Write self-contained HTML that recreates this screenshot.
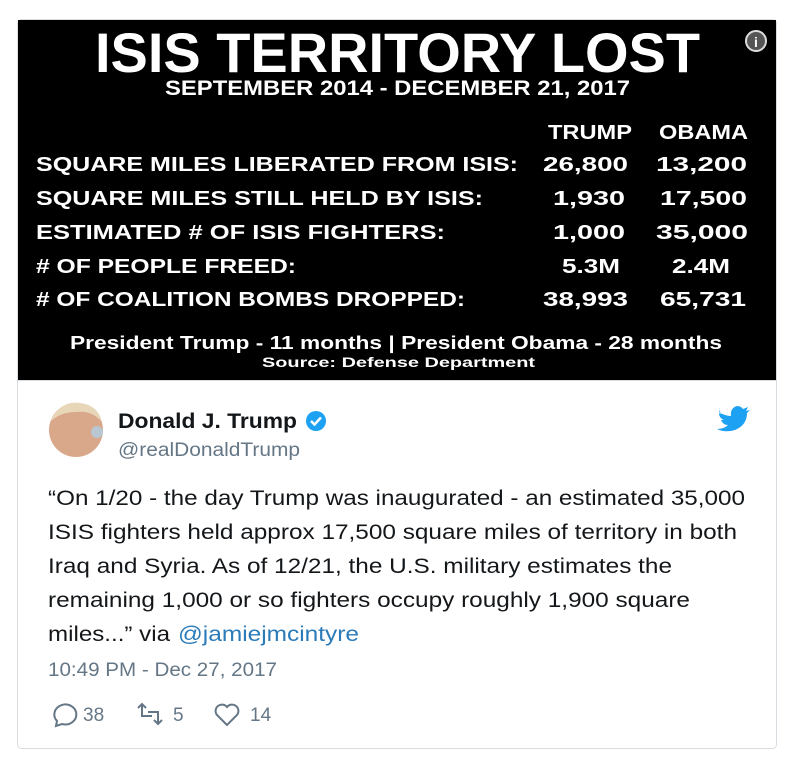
<!DOCTYPE html>
<html><head><meta charset="utf-8"><style>
body{margin:0;background:#fff;width:799px;height:774px;overflow:hidden}
svg{display:block}
</style></head><body>
<svg width="799" height="774" viewBox="0 0 799 774" xmlns="http://www.w3.org/2000/svg" font-family="Liberation Sans, sans-serif">
<rect x="17.5" y="19.5" width="759" height="729" rx="4" fill="#fff" stroke="#d8dde2"/>
<rect x="18" y="20" width="758" height="360" fill="#000"/>
<g fill="#fff" font-weight="bold">
<text x="95" y="72" font-size="56" textLength="605" lengthAdjust="spacingAndGlyphs">ISIS TERRITORY LOST</text>
<text x="165" y="95" font-size="21" textLength="465" lengthAdjust="spacingAndGlyphs">SEPTEMBER 2014 - DECEMBER 21, 2017</text>
<g font-size="20">
<text x="548" y="139" textLength="84" lengthAdjust="spacingAndGlyphs">TRUMP</text>
<text x="659" y="139" textLength="89" lengthAdjust="spacingAndGlyphs">OBAMA</text>
<text x="36" y="171" textLength="482" lengthAdjust="spacingAndGlyphs">SQUARE MILES LIBERATED FROM ISIS:</text>
<text x="543" y="171" textLength="85" lengthAdjust="spacingAndGlyphs">26,800</text>
<text x="656" y="171" textLength="91" lengthAdjust="spacingAndGlyphs">13,200</text>
<text x="36" y="205" textLength="447" lengthAdjust="spacingAndGlyphs">SQUARE MILES STILL HELD BY ISIS:</text>
<text x="553" y="205" textLength="72" lengthAdjust="spacingAndGlyphs">1,930</text>
<text x="660" y="205" textLength="87" lengthAdjust="spacingAndGlyphs">17,500</text>
<text x="36" y="239" textLength="409" lengthAdjust="spacingAndGlyphs">ESTIMATED # OF ISIS FIGHTERS:</text>
<text x="553" y="239" textLength="72" lengthAdjust="spacingAndGlyphs">1,000</text>
<text x="656" y="239" textLength="92" lengthAdjust="spacingAndGlyphs">35,000</text>
<text x="36" y="273" textLength="260" lengthAdjust="spacingAndGlyphs"># OF PEOPLE FREED:</text>
<text x="562" y="273" textLength="58" lengthAdjust="spacingAndGlyphs">5.3M</text>
<text x="672" y="273" textLength="58" lengthAdjust="spacingAndGlyphs">2.4M</text>
<text x="36" y="306" textLength="429" lengthAdjust="spacingAndGlyphs"># OF COALITION BOMBS DROPPED:</text>
<text x="543" y="306" textLength="85" lengthAdjust="spacingAndGlyphs">38,993</text>
<text x="660" y="306" textLength="86" lengthAdjust="spacingAndGlyphs">65,731</text>
</g>
<text x="70" y="349" font-size="18" textLength="652" lengthAdjust="spacingAndGlyphs">President Trump - 11 months | President Obama - 28 months</text>
<text x="262" y="367" font-size="14" textLength="273" lengthAdjust="spacingAndGlyphs">Source: Defense Department</text>
</g>
<g>
<circle cx="756" cy="41" r="10" fill="#555" stroke="#ddd" stroke-width="2"/>
<text x="756" y="47" font-size="14" font-weight="bold" fill="#fff" text-anchor="middle">i</text>
</g>
<line x1="18" y1="380.5" x2="776" y2="380.5" stroke="#d8dde2"/>
<g>
<circle cx="76" cy="430" r="27" fill="#d9a88a"/>
<path d="M50 422 Q60 400 80 403 Q98 405 102 422 Q92 410 76 412 Q60 412 50 422Z" fill="#e8d6b8"/>
<circle cx="97" cy="432" r="6" fill="#a9d4f0" opacity="0.7"/>
</g>
<text x="118" y="428" font-size="21" font-weight="bold" fill="#14171a" textLength="179" lengthAdjust="spacingAndGlyphs">Donald J. Trump</text>
<g>
<circle cx="316" cy="421" r="10" fill="#1da1f2"/>
<path d="M311 421 l3.5 3.5 l6.5 -7" stroke="#fff" stroke-width="2.5" fill="none"/>
</g>
<text x="118" y="456" font-size="19" fill="#657786" textLength="182" lengthAdjust="spacingAndGlyphs">@realDonaldTrump</text>
<path d="M719 412 q6 4 12 4 q-1-8 6-10 q4 0 6 3 l5-2 l-2 4 l4-1 l-3 3 q0 12-12 17 q-10 3-18-1 q7 0 11-4 q-5 0-7-5 h3 q-5-2-5-7 l3 1 q-4-3-2-7z" fill="#1da1f2"/>
<g font-size="21" fill="#14171a">
<text x="48" y="505" textLength="697" lengthAdjust="spacingAndGlyphs">“On 1/20 - the day Trump was inaugurated - an estimated 35,000</text>
<text x="48" y="539" textLength="689" lengthAdjust="spacingAndGlyphs">ISIS fighters held approx 17,500 square miles of territory in both</text>
<text x="48" y="573" textLength="624" lengthAdjust="spacingAndGlyphs">Iraq and Syria. As of 12/21, the U.S. military estimates the</text>
<text x="48" y="607" textLength="642" lengthAdjust="spacingAndGlyphs">remaining 1,000 or so fighters occupy roughly 1,900 square</text>
<text x="48" y="641" textLength="122" lengthAdjust="spacingAndGlyphs">miles...” via</text>
</g>
<text x="178" y="641" font-size="21" fill="#2b7bb9" textLength="181" lengthAdjust="spacingAndGlyphs">@jamiejmcintyre</text>
<text x="48" y="676" font-size="19" fill="#657786" textLength="229" lengthAdjust="spacingAndGlyphs">10:49 PM - Dec 27, 2017</text>
<g fill="none" stroke="#657786" stroke-width="2">
<path d="M56 726 l1-5 a11 10 0 1 1 5 3 z"/>
<path d="M138 708 l4-4 l4 4 M142 704 v12 h10 M162 720 l-4 4 l-4-4 M158 724 v-12 h-10"/>
<path d="M227 725 l-10-10 a6 6 0 0 1 10-8 a6 6 0 0 1 10 8 z"/>
</g>
<g font-size="19" fill="#657786">
<text x="83" y="721">38</text>
<text x="173" y="721">5</text>
<text x="250" y="721">14</text>
</g>
</svg>
</body></html>
